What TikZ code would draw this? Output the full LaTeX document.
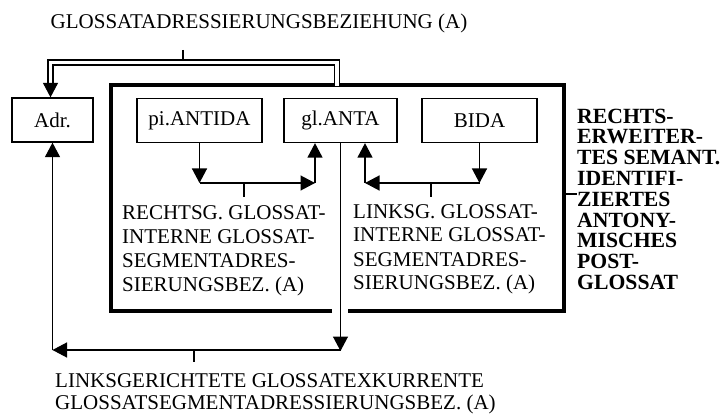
\documentclass[tikz,border=0pt]{standalone}
\usepackage{fontspec}
\setmainfont{Liberation Serif}
\usetikzlibrary{arrows.meta}
\begin{document}
\begin{tikzpicture}[x=1pt,y=-1pt,
  ln/.style={line width=1.3pt},
  box/.style={draw, line width=1.3pt, inner sep=0pt, minimum height=44pt, font=\fontsize{21}{24}\selectfont},
  arr/.style={line width=1.3pt, -{Triangle[length=14.5pt,width=15pt]}},
  lab/.style={inner sep=0pt, align=left, anchor=base west, font=\fontsize{21}{24}\selectfont},
  dbl/.style={line width=1.3pt, double distance=3.7pt, line join=miter}
]
\useasboundingbox (0,0) rectangle (723,414);

% title
\node[inner sep=0pt, anchor=base, font=\fontsize{21}{24}\selectfont] (title) at (259,29) {GLOSSATADRESSIERUNGSBEZIEHUNG (A)};

% boxes
\node[box, minimum width=81pt]  (adr)  at (52.5,120) {Adr.};
\node[box, minimum width=125pt] (pi)   at (199.5,120.5) {pi.ANTIDA};
\node[box, minimum width=113pt] (gl)   at (340.5,120.5) {gl.ANTA};
\node[box, minimum width=115pt] (bida) at (479.5,120.5) {BIDA};

% outer thick frame with gap at the bottom
\coordinate (oa) at (110.5,85);
\coordinate (ob) at (563.5,311);
\draw[line width=4pt, line join=miter] (332,311) -- (oa |- ob) -- (oa) -- (ob |- oa) -- (ob) -- (348,311);

% double connector from title to Adr.
\coordinate (tt) at (183,50);
\coordinate (tb) at (183,60.5);
\draw[ln] (tt) -- (tb);
\coordinate (dr) at (337,86);
\coordinate (dc) at (50.5,62.5);
\coordinate (dl) at (50.5,86);
\draw[dbl] (dr) |- (dc) -- (dl);
\coordinate (dt) at (50.5,84);
\draw[arr] (dt) -- (dt |- adr.north);

% left internal relation
\coordinate (pc) at (pi.south |- 0,183);
\coordinate (ga) at (315,183);
\draw[arr] (pi.south) -- (pc);
\draw[arr] (pc) -- (ga);
\draw[arr] (ga) -- (ga |- gl.south);
\coordinate (t1a) at (244,183);
\coordinate (t1b) at (244,197);
\draw[ln] (t1a) -- (t1b);

% right internal relation
\coordinate (bc) at (bida.south |- 0,183);
\coordinate (gb) at (365,183);
\draw[arr] (bida.south) -- (bc);
\draw[arr] (bc) -- (gb);
\draw[arr] (gb) -- (gb |- gl.south);
\coordinate (t2a) at (431,183);
\coordinate (t2b) at (431,197);
\draw[ln] (t2a) -- (t2b);

% labels inside the frame (anchor = baseline of last line)
\node[lab] (rl) at (122,291) {RECHTSG. GLOSSAT-\\INTERNE GLOSSAT-\\SEGMENTADRES-\\SIERUNGSBEZ. (A)};
\node[lab] (ll) at (353,290) {LINKSG. GLOSSAT-\\INTERNE GLOSSAT-\\SEGMENTADRES-\\SIERUNGSBEZ. (A)};

% exocurrent relation
\coordinate (gd) at (gl.south |- 0,351);
\coordinate (gh) at (gl.south |- 0,350);
\coordinate (ac) at (adr.south |- 0,350);
\draw[arr] (gl.south) -- (gd);
\draw[arr] (gh) -- (ac);
\draw[arr] (ac) -- (adr.south);
\coordinate (t3a) at (194,350);
\coordinate (t3b) at (194,362);
\draw[ln] (t3a) -- (t3b);
\node[lab, font=\fontsize{21}{22.5}\selectfont] (bl) at (55,409.5) {LINKSGERICHTETE GLOSSATEXKURRENTE\\GLOSSATSEGMENTADRESSIERUNGSBEZ. (A)};

% right bold label
\coordinate (rt) at (563.5,194);
\coordinate (rt2) at (577,194);
\draw[line width=2pt] (rt) -- (rt2);
\node[lab, font=\bfseries\fontsize{21.7}{20.8}\selectfont] (rb) at (577,289.5) {RECHTS-\\ERWEITER-\\TES SEMANT.\\IDENTIFI-\\ZIERTES\\ANTONY-\\MISCHES\\POST-\\GLOSSAT};
\end{tikzpicture}
\end{document}
